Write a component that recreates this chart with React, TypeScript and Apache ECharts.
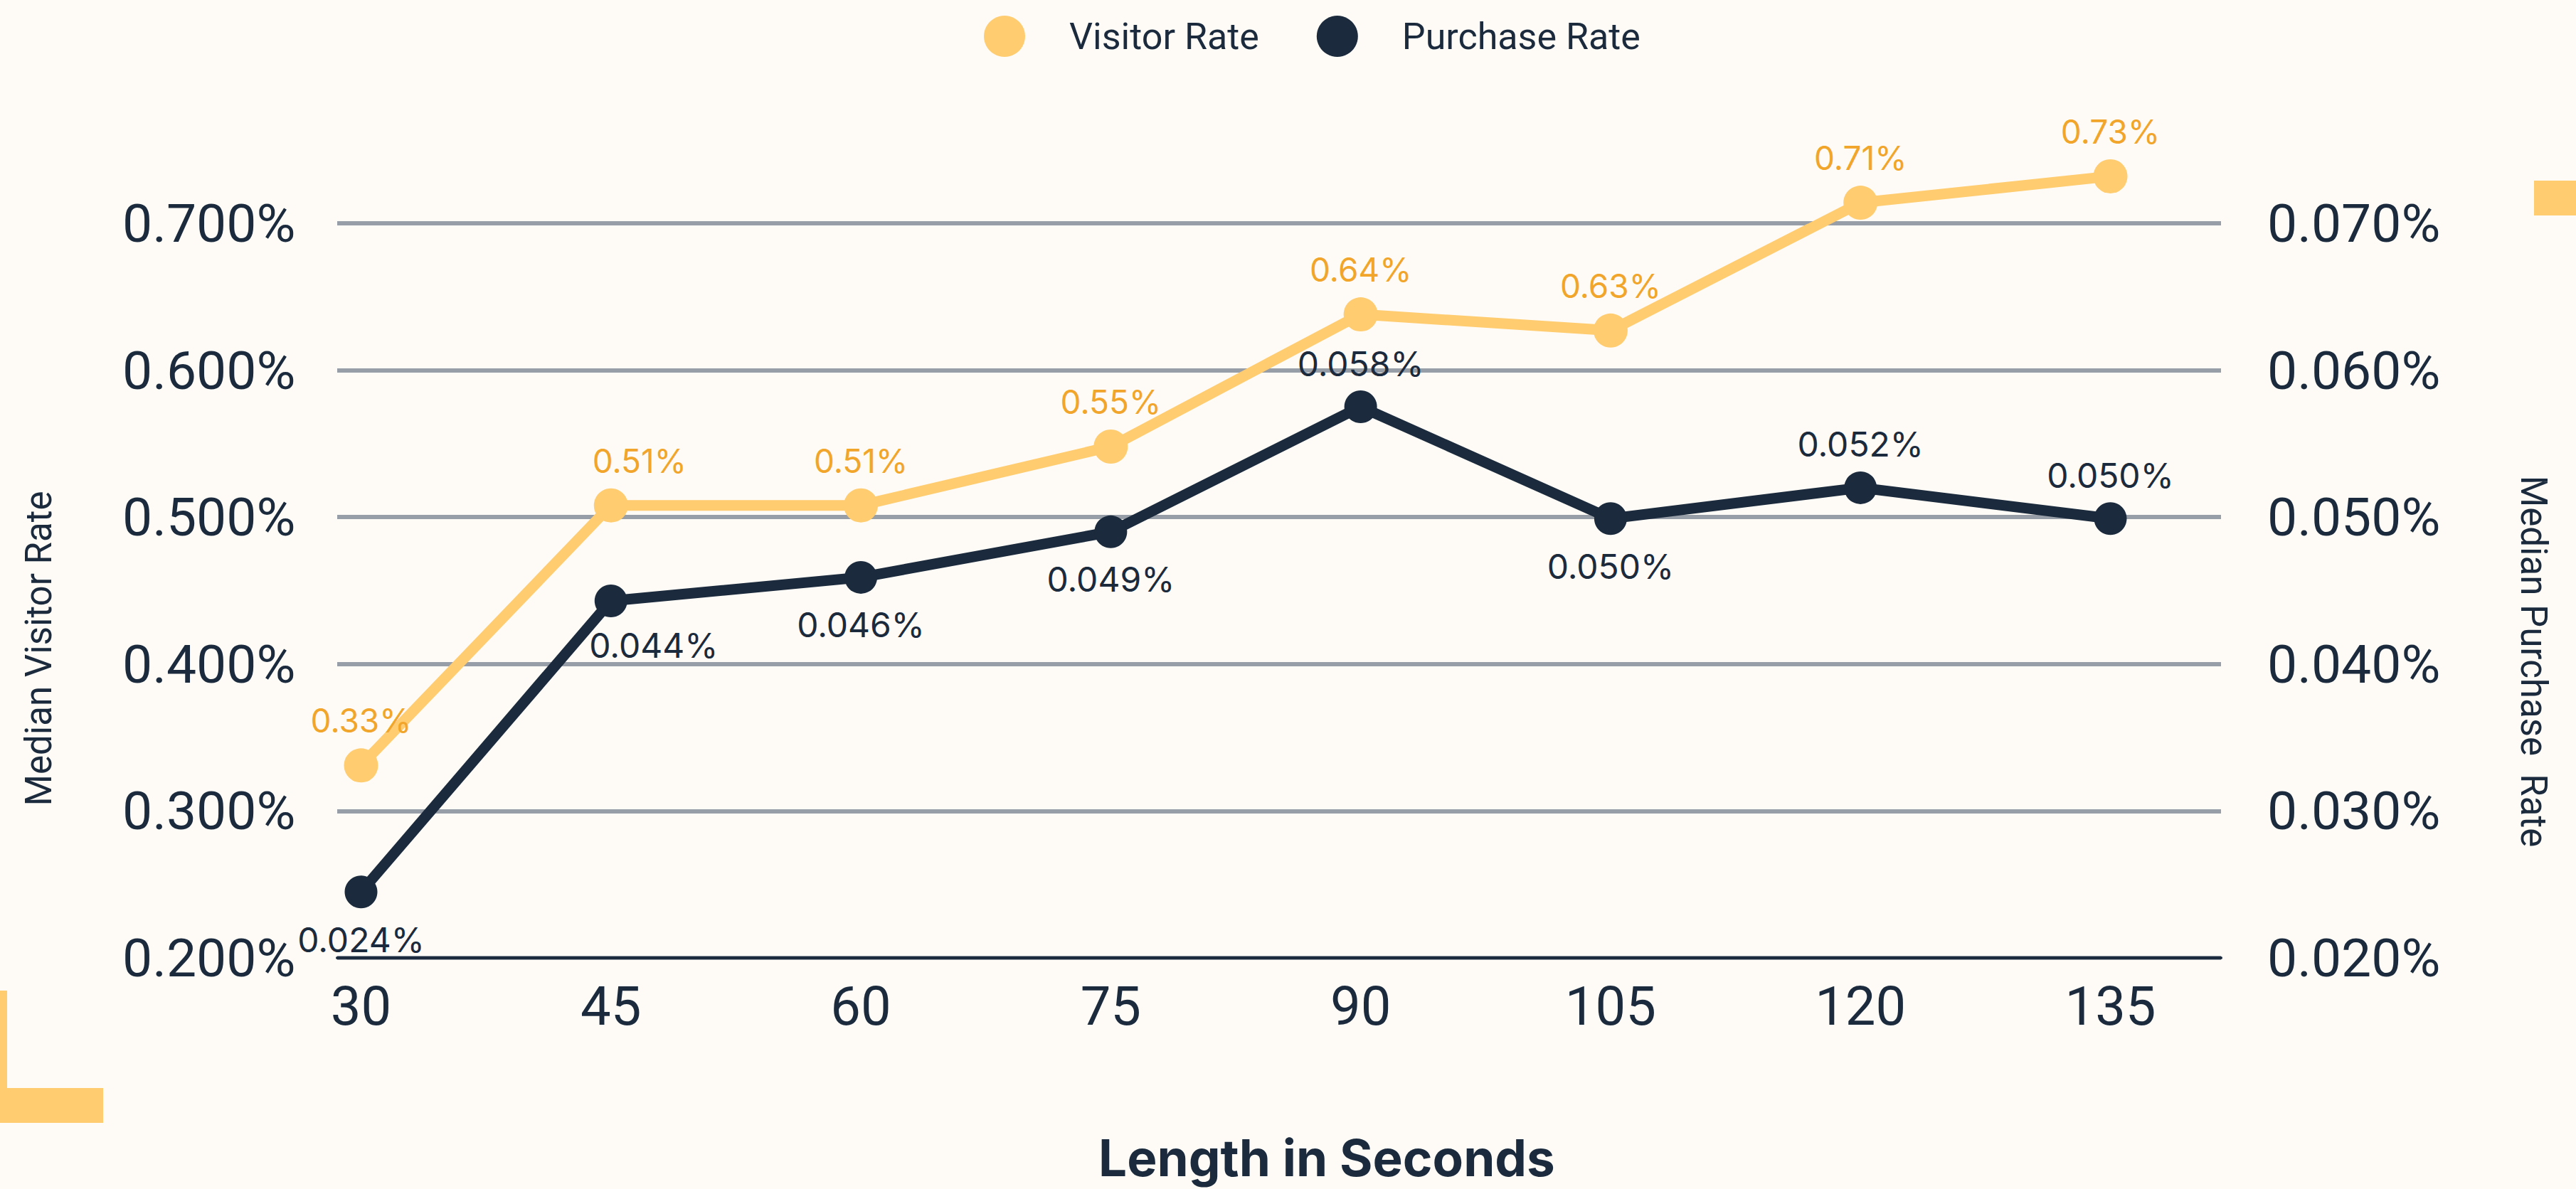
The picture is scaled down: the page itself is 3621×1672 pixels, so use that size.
import React, { useEffect, useRef } from "react";
import * as echarts from "echarts";

// ---- data ----
const lengthSeconds = [30, 45, 60, 75, 90, 105, 120, 135];
const visitorRate = [0.331, 0.508, 0.508, 0.548, 0.638, 0.627, 0.714, 0.732];
const purchaseRate = [0.02449, 0.0443, 0.0459, 0.049, 0.05751, 0.0499, 0.052, 0.0499];
const seriesNames = ["Visitor Rate", "Purchase Rate"];
const leftAxisName = "Median Visitor Rate";
const rightAxisName = "Median Purchase  Rate";
const xAxisTitle = "Length in Seconds";

// ---- styles ----
const BG = "#FEFBF6";
const NAVY = "#1B2A3C";
const YELLOW = "#FFCC70";
const ORANGE_TEXT = "#F2A52B";
const GRID = "#979EA7";
const FONT = "Roboto";

const purchasePlacement = ["bottom", "bottom", "bottom", "bottom", "top", "bottom", "top", "top"];
const purchaseOffset: Record<number, number[]> = { 1: [60, -4] };
const visitorOffset: Record<number, number[]> = { 1: [40, 0] };

export default function App() {
  const ref = useRef<HTMLDivElement>(null);

  useEffect(() => {
    if (!ref.current) return;
    const chart = echarts.init(ref.current, undefined, { renderer: "svg" });

    const visitorData = lengthSeconds.map((x, i) => ({
      value: [x, visitorRate[i]],
      label: visitorOffset[i] ? { offset: visitorOffset[i] } : undefined,
    }));
    const purchaseData = lengthSeconds.map((x, i) => ({
      value: [x, purchaseRate[i]],
      label: {
        position: purchasePlacement[i],
        distance: purchasePlacement[i] === "top" ? 14 : 20,
        ...(purchaseOffset[i] ? { offset: purchaseOffset[i] } : {}),
      },
    }));

    chart.setOption({
      animation: false,
      backgroundColor: BG,
      textStyle: { fontFamily: FONT },
      legend: {
        data: seriesNames,
        left: 1378,
        top: 17,
        icon: "circle",
        itemWidth: 58,
        itemHeight: 58,
        itemGap: 81,
        textStyle: {
          fontFamily: FONT,
          fontSize: 52,
          color: NAVY,
          padding: [0, 0, 0, 57],
        },
      },
      grid: { left: 474, right: 499, top: 314, bottom: 325, containLabel: false },
      xAxis: {
        type: "value",
        min: 28.57,
        max: 141.64,
        axisLine: { onZero: false, lineStyle: { color: NAVY, width: 4 } },
        axisTick: { show: false },
        splitLine: { show: false },
        axisLabel: {
          customValues: lengthSeconds,
          fontFamily: FONT,
          fontSize: 76,
          color: NAVY,
          margin: 30,
        },
      },
      yAxis: [
        {
          type: "value",
          min: 0.2,
          max: 0.7,
          interval: 0.1,
          axisLine: { show: false },
          axisTick: { show: false },
          splitLine: { show: true, lineStyle: { color: GRID, width: 6 } },
          axisLabel: {
            formatter: (v: number) => v.toFixed(3) + "%",
            fontFamily: FONT,
            fontSize: 75,
            color: NAVY,
            align: "left",
            margin: 302,
          },
        },
        {
          type: "value",
          min: 0.02,
          max: 0.07,
          interval: 0.01,
          position: "right",
          axisLine: { show: false },
          axisTick: { show: false },
          splitLine: { show: false },
          axisLabel: {
            formatter: (v: number) => v.toFixed(3) + "%",
            fontFamily: FONT,
            fontSize: 75,
            color: NAVY,
            align: "left",
            margin: 65,
          },
        },
      ],
      series: [
        {
          name: seriesNames[0],
          type: "line",
          yAxisIndex: 0,
          data: visitorData,
          clip: false,
          symbol: "circle",
          symbolSize: 48,
          itemStyle: { color: YELLOW },
          lineStyle: { color: YELLOW, width: 15 },
          z: 3,
          label: {
            show: true,
            position: "top",
            distance: 16,
            fontFamily: "Inter",
            fontSize: 46,
            color: ORANGE_TEXT,
            formatter: (p: any) => p.value[1].toFixed(2) + "%",
          },
        },
        {
          name: seriesNames[1],
          type: "line",
          yAxisIndex: 1,
          data: purchaseData,
          clip: false,
          symbol: "circle",
          symbolSize: 46,
          itemStyle: { color: NAVY },
          lineStyle: { color: NAVY, width: 15 },
          z: 4,
          label: {
            show: true,
            fontFamily: "Inter",
            fontSize: 48,
            color: NAVY,
            formatter: (p: any) => p.value[1].toFixed(3) + "%",
          },
        },
      ],
      graphic: [
        { type: "rect", shape: { x: 3562, y: 254, width: 59, height: 49 }, style: { fill: YELLOW }, silent: true },
        { type: "rect", shape: { x: 0, y: 1393, width: 10, height: 186 }, style: { fill: YELLOW }, silent: true },
        { type: "rect", shape: { x: 0, y: 1530, width: 145, height: 49 }, style: { fill: YELLOW }, silent: true },
        {
          type: "text",
          x: 1865,
          y: 1628,
          style: {
            text: xAxisTitle,
            fontFamily: "Inter",
            fontWeight: "bold",
            fontSize: 71,
            fill: NAVY,
            align: "center",
            verticalAlign: "middle",
          },
        },
        {
          type: "text",
          x: 54,
          y: 912,
          rotation: Math.PI / 2,
          style: {
            text: leftAxisName,
            fontFamily: FONT,
            fontSize: 51,
            fill: NAVY,
            align: "center",
            verticalAlign: "middle",
          },
        },
        {
          type: "text",
          x: 3561,
          y: 930,
          rotation: -Math.PI / 2,
          style: {
            text: rightAxisName,
            fontFamily: FONT,
            fontSize: 51,
            fill: NAVY,
            align: "center",
            verticalAlign: "middle",
          },
        },
      ],
    });

    return () => chart.dispose();
  }, []);

  return (
    <div
      ref={ref}
      style={{ position: "absolute", left: 0, top: 0, width: 3621, height: 1672, background: BG }}
    />
  );
}
